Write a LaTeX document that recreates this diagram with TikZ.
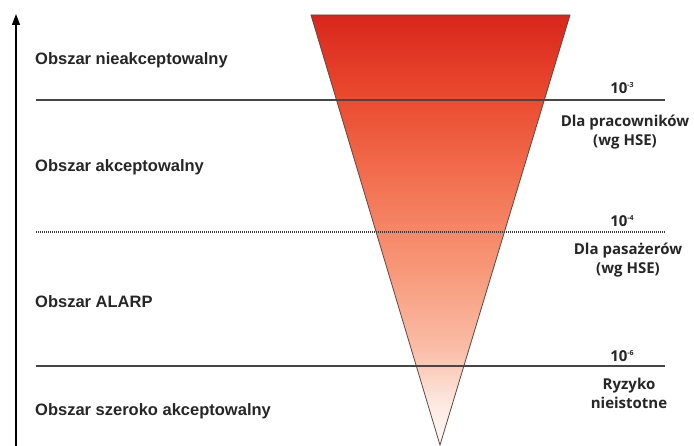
\documentclass[tikz,border=0pt]{standalone}
\usepackage{fontspec}
\setmainfont{Liberation Sans}
\newfontfamily\rightfont{Open Sans}
\usetikzlibrary{arrows.meta}
\definecolor{cA}{RGB}{216,38,28}
\definecolor{cB}{RGB}{234,72,46}
\definecolor{cC}{RGB}{242,112,80}
\definecolor{cD}{RGB}{247,150,118}
\definecolor{cE}{RGB}{250,190,168}
\definecolor{cF}{RGB}{253,232,224}
\definecolor{cG}{RGB}{255,250,248}
\definecolor{linegray}{RGB}{70,70,70}
\definecolor{edgegray}{RGB}{95,70,65}
\pgfdeclareverticalshading{riskshade}{100bp}{%
  color(0bp)=(cG); color(25bp)=(cG); color(30bp)=(cF); color(36bp)=(cE);
  color(46bp)=(cD); color(56bp)=(cC); color(66bp)=(cB); color(75bp)=(cA); color(100bp)=(cA)}
\tikzset{
  zone/.style={anchor=west, font=\bfseries\fontsize{16.5}{18}\selectfont, text=black!85, inner sep=0pt},
  rlabel/.style={align=center, font=\rightfont\bfseries\fontsize{15}{19}\selectfont, text=black!85, inner sep=0pt},
  expo/.style={font=\rightfont\bfseries\fontsize{15}{16}\selectfont, text=black!85, inner sep=0pt},
  level/.style={draw=linegray, line width=1.3pt},
  dotlevel/.style={draw=linegray!80!black, line width=1.3pt, dash pattern=on 1pt off 1pt},
}
\newcommand\expsup[1]{\raisebox{0.8ex}{\fontsize{7}{8}\selectfont #1}}
\begin{document}
\begin{tikzpicture}[x=1pt,y=-1pt]
\useasboundingbox (0,0) rectangle (694,446);
\fill[white] (0,0) rectangle (694,446);
% funnel
\coordinate (tl) at (311,15);
\coordinate (tr) at (570,15);
\coordinate (tip) at (440,445);
\shade[shading=riskshade, draw=edgegray, line width=0.8pt] (tl) -- (tr) -- (tip) -- cycle;
% axis
\coordinate (ax0) at (16,446);
\coordinate (ax1) at (16,14);
\draw[line width=1.2pt, -{Triangle[length=11pt,width=8pt]}] (ax0) -- (ax1);
% level lines
\coordinate (l1a) at (36,100); \coordinate (l1b) at (665,100);
\coordinate (l2a) at (36,232); \coordinate (l2b) at (665,232);
\coordinate (l3a) at (36,366); \coordinate (l3b) at (665,366);
\draw[level] (l1a) -- (l1b);
\draw[dotlevel] (l2a) -- (l2b);
\draw[level] (l3a) -- (l3b);
% zone labels
\node[zone] (z1) at (35,60) {Obszar nieakceptowalny};
\node[zone] (z2) at (35,167) {Obszar akceptowalny};
\node[zone] (z3) at (35,302) {Obszar ALARP};
\node[zone] (z4) at (35,411) {Obszar szeroko akceptowalny};
% right labels
\node[expo] (e1) at (622,88) {10\expsup{-3}};
\node[rlabel] (r1) at (625,132) {Dla pracowników\\(wg HSE)};
\node[expo] (e2) at (622,221) {10\expsup{-4}};
\node[rlabel] (r2) at (628,260) {Dla pasażerów\\(wg HSE)};
\node[expo] (e3) at (622,356) {10\expsup{-6}};
\node[rlabel] (r3) at (629,393) {Ryzyko\\nieistotne};
\end{tikzpicture}
\end{document}
